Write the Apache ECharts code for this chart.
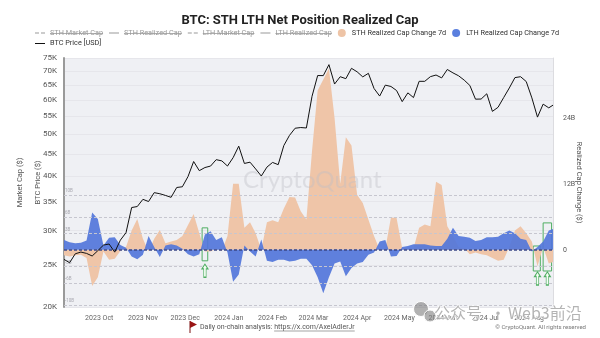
<!DOCTYPE html>
<html><head><meta charset="utf-8">
<script src="https://cdn.jsdelivr.net/npm/echarts@6/dist/echarts.min.js"></script>
<style>html,body{margin:0;padding:0;background:#fff;}#c{width:600px;height:338px;}</style>
</head><body><div id="c"></div>
<script>
// ---- data ----
const dates = ['2023-09-06','2023-09-10','2023-09-14','2023-09-18','2023-09-22','2023-09-26','2023-09-30','2023-10-04','2023-10-08','2023-10-12',
'2023-10-16','2023-10-20','2023-10-24','2023-10-28','2023-11-01','2023-11-05','2023-11-09','2023-11-13','2023-11-17','2023-11-21',
'2023-11-25','2023-11-29','2023-12-03','2023-12-07','2023-12-11','2023-12-15','2023-12-19','2023-12-23','2023-12-27','2023-12-31',
'2024-01-04','2024-01-08','2024-01-12','2024-01-16','2024-01-20','2024-01-24','2024-01-28','2024-02-01','2024-02-05','2024-02-09',
'2024-02-13','2024-02-17','2024-02-21','2024-02-25','2024-02-29','2024-03-04','2024-03-08','2024-03-12','2024-03-16','2024-03-20',
'2024-03-24','2024-03-28','2024-04-01','2024-04-05','2024-04-09','2024-04-13','2024-04-17','2024-04-21','2024-04-25','2024-04-29',
'2024-05-03','2024-05-07','2024-05-11','2024-05-15','2024-05-19','2024-05-23','2024-05-27','2024-05-31','2024-06-04','2024-06-08',
'2024-06-12','2024-06-16','2024-06-20','2024-06-24','2024-06-28','2024-07-02','2024-07-06','2024-07-10','2024-07-14','2024-07-18',
'2024-07-22','2024-07-26','2024-07-30','2024-08-03','2024-08-07','2024-08-11','2024-08-15','2024-08-18'];
// BTC price, thousand USD
const btcPrice = [25.75,25.3,26.53,26.77,26.58,26.22,26.97,27.78,27.94,26.76,
28.52,29.67,33.91,34.09,35.42,35.01,36.70,36.49,36.16,35.80,
37.72,37.86,39.97,43.29,41.24,41.93,42.26,43.72,43.44,42.27,
44.18,46.97,42.85,43.14,41.62,40.08,42.03,43.08,42.58,47.13,
49.73,51.66,51.85,51.73,61.20,68.33,68.30,72.4,65.32,67.91,
67.21,71.00,69.70,67.85,69.14,63.80,61.28,64.94,64.48,63.11,
59.5,62.33,60.79,66.27,66.27,67.93,68.52,67.49,70.57,69.31,
68.24,66.68,64.83,60.28,60.32,62.03,56.5,57.73,60.79,63.97,
67.59,67.91,66.19,60.69,54.8,58.71,57.56,58.4];
// realized cap change 7d, billion USD
const sthChange = [-1.0,-1.2,-1.0,-0.9,-1.5,-6.6,-5.0,-0.3,-1.8,-1.6,
-0.2,0.5,3.5,5.6,2.0,-0.3,2.0,3.6,1.2,1.5,
1.8,2.5,4.5,6.5,3.0,-0.3,-0.3,0.2,-0.2,2.5,
12.0,12.0,4.0,5.0,3.0,0.0,5.0,5.4,5.0,7.5,
9.6,9.5,7.0,5.5,18.0,29.0,31.0,33.0,24.0,12.0,
20.5,19.0,10.0,8.5,5.5,2.5,0.0,0.2,5.9,5.8,
0.3,0.2,0.3,4.0,4.6,4.3,12.4,11.8,4.3,2.5,
0.5,0.3,-0.8,-0.5,-0.8,-1.0,-1.5,-2.0,-1.8,0.5,
3.5,4.3,3.0,1.5,-3.0,0.5,-2.5,-2.2];
const lthChange = [1.8,1.4,1.2,1.3,1.7,6.8,5.6,0.8,2.2,2.3,
0.9,0.4,-1.2,-1.7,-0.9,2.5,0.5,-1.3,0.8,1.0,
0.8,0.2,-0.8,-1.2,-0.8,2.8,3.4,1.8,2.3,-0.5,
-5.8,-4.5,0.8,-0.3,-1.2,1.9,-2.0,-2.2,-1.8,-1.8,
-2.1,-2.0,-1.6,-1.6,-2.8,-5.0,-7.9,-5.0,-2.5,-2.1,
-4.8,-3.3,-2.5,-2.2,-0.9,-0.5,1.5,1.8,-1.2,-1.1,
0.5,0.7,1.0,1.0,1.0,0.8,0.7,0.7,2.0,4.0,
2.5,2.4,2.2,1.6,1.8,2.3,2.3,2.4,3.0,3.5,
3.0,2.0,1.8,-0.3,0.5,1.5,3.5,3.8];
const priceTicks = [20,25,30,35,40,45,50,55,60,65,70,75];
const changeTicks = [0,12,24];
const refLevels = [10,6,3,-3,-6,-10];
const legendTop = ['STH Market Cap','STH Realized Cap','LTH Market Cap','LTH Realized Cap','STH Realized Cap Change 7d','LTH Realized Cap Change 7d'];
const monthNames = ['Jan','Feb','Mar','Apr','May','Jun','Jul','Aug','Sep','Oct','Nov','Dec'];
// annotations (date range, value range in B)
const boxes = [['2023-12-13','2023-12-17',4.0,-2.0],['2024-08-04','2024-08-09',0.7,-3.85],['2024-08-11','2024-08-17',4.9,-3.85]];
const arrows = [['2023-12-15',-3.8],['2024-08-07',-5.2],['2024-08-14',-5.2]];

// ---- layout helpers ----
const FONT = 'Roboto';
const LF = 7.3, IW = 10, IH = 8, IG = 6, LLEFT = 35, LTOP = 29;
const ctx = document.createElement('canvas').getContext('2d');
ctx.font = LF + 'px ' + FONT;
let lx = LLEFT; const strikes = [];
legendTop.forEach((n, i) => {
  const tw = ctx.measureText(n).width;
  const tx = lx + IW + 5;
  if (i < 4) strikes.push([tx, tx + tw]);
  lx = tx + tw + IG;
});
ctx.font = '7px ' + FONT;
const txt1 = 'Daily on-chain analysis: ';
const w1 = ctx.measureText(txt1).width;
const url = 'https://x.com/AxelAdlerJr';
const w2 = ctx.measureText(url).width;

const ICON_SOLID = 'path://M0,0H10V1H0Z';
const ICON_DASH = 'path://M0,0H4V1H0Z M6,0H10V1H6Z';

const pair = arr => dates.map((d, i) => [d, arr[i]]);
const chart = echarts.init(document.getElementById('c'), null, {renderer: 'canvas'});

const hidden = (name, dashed) => ({
  name, type: 'line', yAxisIndex: 2, data: [], symbol: 'none',
  color: '#888', lineStyle: {type: dashed ? [3, 2] : 'solid', width: 1.2}
});

const graphics = [
  {type: 'text', x: 243, y: 168, z: 100, silent: true,
   style: {text: 'CryptoQuant', font: '24px Lato', fill: 'rgba(190,190,198,0.4)'}},
  {type: 'polyline', shape: {points: [[190, 333], [190, 321]]}, style: {stroke: '#7a1010', lineWidth: 1}},
  {type: 'polygon', shape: {points: [[190, 321], [197, 324.5], [190, 328]]}, style: {fill: '#9a1515'}},
  {type: 'text', x: 200, y: 327, style: {text: txt1, font: '7px ' + FONT, fill: '#555', textVerticalAlign: 'middle'}},
  {type: 'text', x: 200 + w1, y: 327, style: {text: url, font: '7px ' + FONT, fill: '#555', textVerticalAlign: 'middle'}},
  {type: 'line', shape: {x1: 200 + w1, y1: 331, x2: 200 + w1 + w2, y2: 331}, style: {stroke: '#666', lineWidth: 0.6}},
  {type: 'text', right: 14, y: 327, style: {text: '© CryptoQuant. All rights reserved', font: '6px ' + FONT, fill: '#777', textVerticalAlign: 'middle'}},
  // WeChat watermark
  {type: 'circle', z: 200, shape: {cx: 421, cy: 309, r: 7.5}, style: {fill: 'rgba(125,125,125,0.6)', stroke: '#fff', lineWidth: 1}},
  {type: 'circle', z: 201, shape: {cx: 430, cy: 316, r: 6}, style: {fill: 'rgba(125,125,125,0.6)', stroke: '#fff', lineWidth: 1}},
  {type: 'text', z: 202, x: 434, y: 313, style: {text: '公众号', font: '16px "Noto Sans CJK SC"', fill: 'rgba(130,130,130,0.6)', stroke: 'rgba(255,255,255,0.8)', lineWidth: 1.5, textVerticalAlign: 'middle'}},
  {type: 'text', z: 202, x: 490, y: 313, style: {text: '·', font: '16px "Noto Sans CJK SC"', fill: 'rgba(130,130,130,0.6)', textVerticalAlign: 'middle'}},
  {type: 'text', z: 202, x: 508, y: 313, style: {text: 'Web3前沿', font: '16px "Noto Sans CJK SC"', fill: 'rgba(130,130,130,0.6)', stroke: 'rgba(255,255,255,0.8)', lineWidth: 1.5, textVerticalAlign: 'middle'}}
];
strikes.forEach(s => graphics.push({type: 'line', z: 50, silent: true,
  shape: {x1: s[0], y1: LTOP + IH / 2 + 0.5, x2: s[1], y2: LTOP + IH / 2 + 0.5}, style: {stroke: '#999', lineWidth: 0.8}}));

const option = {
  backgroundColor: '#fff',
  animation: false,
  textStyle: {fontFamily: FONT},
  title: {text: 'BTC: STH LTH Net Position Realized Cap', left: 'center', top: 9,
    textStyle: {fontSize: 13, fontWeight: 'bold', color: '#222', fontFamily: FONT}},
  legend: [{
    left: LLEFT, top: LTOP, width: 565, padding: 0, itemWidth: IW, itemHeight: IH, itemGap: IG,
    textStyle: {fontSize: LF, color: '#333', fontFamily: FONT}, inactiveColor: '#999', inactiveBorderColor: '#999',
    data: legendTop.map((n, i) => ({name: n, icon: i >= 4 ? 'circle' : (i % 2 === 0 ? ICON_DASH : ICON_SOLID)})),
    selected: {'STH Market Cap': false, 'STH Realized Cap': false, 'LTH Market Cap': false, 'LTH Realized Cap': false}
  }, {
    left: LLEFT, top: LTOP + 11, padding: 0, itemWidth: IW, itemHeight: IH,
    textStyle: {fontSize: LF, color: '#333', fontFamily: FONT},
    data: [{name: 'BTC Price [USD]', icon: ICON_SOLID}]
  }],
  grid: {left: 64, right: 47, top: 58, bottom: 31, show: true, backgroundColor: '#eff0f4', borderWidth: 0},
  graphic: graphics,
  xAxis: {
    type: 'time', min: dates[0], max: '2024-08-18', splitNumber: 12, minInterval: 28 * 864e5,
    axisLine: {show: false}, axisTick: {show: false}, splitLine: {show: false},
    axisLabel: {fontSize: 7, color: '#666', margin: 8, showMinLabel: false, showMaxLabel: false,
      formatter: v => { const d = new Date(v); return d.getDate() === 1 ? d.getFullYear() + ' ' + monthNames[d.getMonth()] : ''; }}
  },
  yAxis: [{
    type: 'log', logBase: 10, min: 20, max: 75, position: 'left',
    axisLine: {show: true, lineStyle: {color: '#9a9a9a', width: 2}},
    axisTick: {show: false, customValues: priceTicks},
    axisLabel: {customValues: priceTicks, formatter: v => Math.round(v) + 'K', fontSize: 8, color: '#555', margin: 7},
    splitLine: {show: true, lineStyle: {color: '#e6e6eb', width: 1}},
    name: 'BTC Price ($)', nameLocation: 'middle', nameGap: 22, nameMoveOverlap: false,
    nameTextStyle: {fontSize: 7.5, color: '#555'}
  }, {
    type: 'value', min: -10.4, max: 34.9, position: 'right',
    axisLine: {show: true, lineStyle: {color: '#dcdce0', width: 1}},
    axisTick: {show: false, customValues: changeTicks},
    axisLabel: {customValues: changeTicks, formatter: v => v === 0 ? '0' : v + 'B', fontSize: 7, color: '#555', margin: 10},
    splitLine: {show: false},
    name: 'Realized Cap Change ($)', nameLocation: 'middle', nameGap: 22, nameRotate: -90, nameMoveOverlap: false,
    nameTextStyle: {fontSize: 7.5, color: '#555'}
  }, {
    type: 'value', position: 'left', offset: 0, min: 0, max: 1,
    axisLine: {show: false}, axisTick: {show: false}, axisLabel: {show: false}, splitLine: {show: false},
    name: 'Market Cap ($)', nameLocation: 'middle', nameGap: 40, nameMoveOverlap: false,
    nameTextStyle: {fontSize: 7.5, color: '#555'}
  }],
  series: [
    hidden('STH Market Cap', true),
    hidden('STH Realized Cap', false),
    hidden('LTH Market Cap', true),
    hidden('LTH Realized Cap', false),
    {
      name: 'STH Realized Cap Change 7d', type: 'line', yAxisIndex: 1, z: 2,
      data: pair(sthChange), symbol: 'none', color: '#eec4a6',
      lineStyle: {width: 0}, areaStyle: {color: '#efc5a8', opacity: 1},
      markLine: {silent: true, symbol: 'none', animation: false,
        lineStyle: {type: [3, 2], color: '#c6c6cf', width: 1},
        label: {show: true, position: 'insideStartTop', fontSize: 4.5, color: '#a8a8b0', distance: 1},
        data: refLevels.map(v => ({yAxis: v, label: {formatter: v + 'B'}}))}
    },
    {
      name: 'LTH Realized Cap Change 7d', type: 'line', yAxisIndex: 1, z: 3,
      data: pair(lthChange), symbol: 'none', color: '#5a7fde',
      lineStyle: {width: 0}, areaStyle: {color: 'rgba(82,118,218,0.92)', opacity: 1},
      markLine: {silent: true, symbol: 'none', animation: false,
        lineStyle: {type: [3, 2], color: '#3b4787', width: 1.5}, label: {show: false},
        data: [{yAxis: 0}]}
    },
    {
      name: 'BTC Price [USD]', type: 'line', yAxisIndex: 0, z: 5,
      data: pair(btcPrice), symbol: 'none', color: '#111',
      lineStyle: {width: 1, color: '#111'}
    },
    {
      name: 'annotations', type: 'line', yAxisIndex: 1, z: 8, silent: true,
      data: pair(lthChange), symbol: 'none', lineStyle: {width: 0, opacity: 0},
      markArea: {silent: true, itemStyle: {color: 'rgba(0,0,0,0)', borderColor: '#4fae62', borderWidth: 1},
        data: boxes.map(b => [{coord: [b[0], b[2]]}, {coord: [b[1], b[3]]}])},
      markPoint: {silent: true, symbol: 'path://M5,0 L10,5 L7,5 L7,14 L3,14 L3,5 L0,5 Z', symbolSize: [6, 13],
        itemStyle: {color: '#f4fff4', borderColor: '#4fae62', borderWidth: 1}, label: {show: false},
        data: arrows.map(a => ({coord: [a[0], a[1]]}))}
    }
  ]
};
chart.setOption(option);
</script>
</body></html>
